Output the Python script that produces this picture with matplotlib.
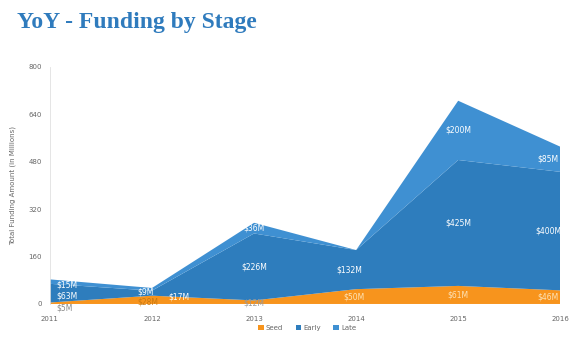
import numpy as np
import matplotlib
matplotlib.use("Agg")
import matplotlib.pyplot as plt

years = ["2011", "2012", "2013", "2014", "2015", "2016"]
seed = [5, 28, 12, 50, 61, 46]
early = [63, 17, 226, 132, 425, 400]
late = [15, 9, 36, 0, 200, 85]

c_seed = "#f7941d"
c_early = "#2e7dbd"
c_late = "#3f90d2"

fig = plt.figure(figsize=(5.74, 3.47), dpi=100)
ax = fig.add_axes([0.087, 0.124, 0.889, 0.683])

x = np.arange(len(years))
ax.stackplot(x, seed, early, late, colors=[c_seed, c_early, c_late],
             labels=["Seed", "Early", "Late"], linewidth=0)

ax.set_xlim(0, len(years) - 1)
ax.set_ylim(0, 800)
ax.set_yticks(np.arange(0, 801, 160))
ax.set_xticks(x)
ax.set_xticklabels(years)
ax.tick_params(length=0, labelsize=5, colors="#666666", pad=6)
ax.tick_params(axis="x", pad=9)
for s in ["top", "right", "bottom"]:
    ax.spines[s].set_visible(False)
ax.spines["left"].set_color("#e0e0e0")
ax.spines["left"].set_linewidth(0.6)
ax.set_ylabel("Total Funding Amount (in Millions)", fontsize=5, color="#666666", labelpad=9)

# data labels, placed at the middle of each stacked band
s = np.array(seed)
e = np.array(early)
l = np.array(late)
fs = 5.5
shift = [0.16, 0.12, 0.0, -0.07, 0.0, -0.12]
for i in range(len(years)):
    if i == 0:
        ax.text(i + 0.06, s[i] + e[i] - 4, f"${late[i]}M", color="white", fontsize=fs, va="center")
        ax.text(i + 0.06, s[i] + e[i] / 2 - 8, f"${early[i]}M", color="white", fontsize=fs, va="center")
        ax.text(i + 0.06, -14, f"${seed[i]}M", color="#888888", fontsize=fs, va="center")
        continue
    if i == 1:
        ax.text(i - 0.14, s[i] + e[i] + l[i] / 2 - 9, f"${late[i]}M", color="white", fontsize=fs, va="center")
        ax.text(i + 0.16, s[i] + e[i] / 2 - 12, f"${early[i]}M", color="white", fontsize=fs, va="center")
        ax.text(i - 0.04, s[i] / 2 - 8, f"${seed[i]}M", color="#c97a10", fontsize=fs, va="center", ha="center")
        continue
    xi = i + shift[i]
    if late[i] > 0:
        ax.text(xi, s[i] + e[i] + l[i] / 2, f"${late[i]}M", color="white", fontsize=fs, va="center", ha="center")
    ax.text(xi, s[i] + e[i] / 2, f"${early[i]}M", color="white", fontsize=fs, va="center", ha="center")
    ax.text(xi + (0.05 if i == 3 else 0), s[i] / 2 - (4 if i == 2 else 0), f"${seed[i]}M",
            color="#fde3b8" if i > 2 else "#999999", fontsize=fs, va="center", ha="center")

leg = fig.legend(loc="center", bbox_to_anchor=(0.535, 0.055), ncol=3, frameon=False,
                 fontsize=5, handlelength=0.8, handleheight=0.8, columnspacing=1.8,
                 handletextpad=0.3)
for t in leg.get_texts():
    t.set_color("#666666")

fig.text(0.03, 0.935, "YoY - Funding by Stage", fontsize=17, fontweight="bold",
         color="#2f7bbd", family="Liberation Serif", va="center")

fig.savefig("out.png", dpi=100)
